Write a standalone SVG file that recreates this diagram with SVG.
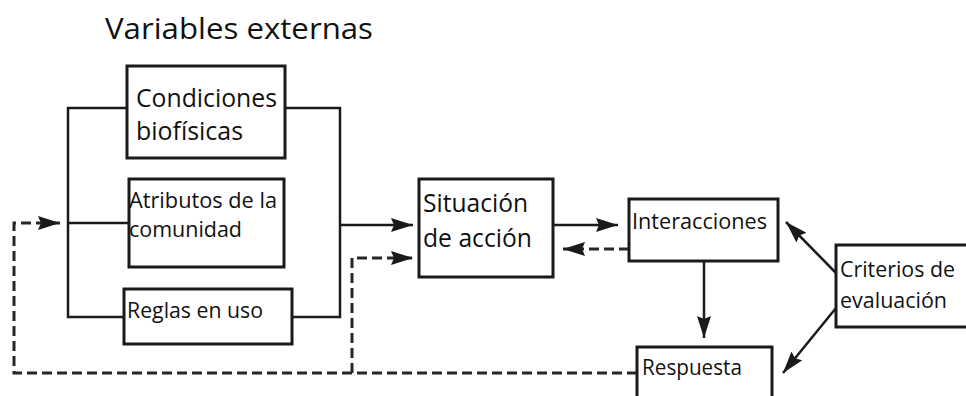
<svg xmlns="http://www.w3.org/2000/svg" width="966" height="396" viewBox="0 0 966 396">
<style>
.box{fill:#fff;stroke:#1a1a1a;stroke-width:3}
.ln{fill:none;stroke:#1a1a1a;stroke-width:2.5}
.ds{fill:none;stroke:#262626;stroke-width:3;stroke-dasharray:10 5}
text{font-family:"Open Sans","Noto Sans",sans-serif;fill:#111}
.big{font-size:25px}
.sm{font-size:21px}
</style>
<defs>
<marker id="ah2" markerWidth="22" markerHeight="14" refX="22" refY="7" orient="auto" markerUnits="userSpaceOnUse">
<path d="M0,0 L22,7 L0,14 L3,7 Z" fill="#1a1a1a"/>
</marker>
</defs>
<rect width="966" height="396" fill="#fff"/>
<text x="105" y="39" style="font-size:30px" textLength="268" lengthAdjust="spacingAndGlyphs">Variables externas</text>
<g id="connectors">
<path class="ln" d="M127,108 H68 V317 H124"/>
<path class="ln" d="M68,223 H129"/>
<path class="ln" d="M285,108 H340 V317 H292"/>
<path class="ln" d="M340,225 H413" marker-end="url(#ah2)"/>
<path class="ln" d="M553,225 H618" marker-end="url(#ah2)"/>
<path class="ds" d="M629,249 H563" marker-end="url(#ah2)"/>
<path class="ds" d="M637,373 H14 V223 H60" marker-end="url(#ah2)"/>
<path class="ds" d="M352,373 V258 H413" marker-end="url(#ah2)"/>
<path class="ln" d="M704,261 V338" marker-end="url(#ah2)"/>
<path class="ln" d="M836,273 L786,222" marker-end="url(#ah2)"/>
<path class="ln" d="M836,308 L783,373" marker-end="url(#ah2)"/>
</g>
<g id="condiciones">
<rect class="box" x="127" y="66" width="158" height="92"/>
<text class="big" x="136" y="107" textLength="141" lengthAdjust="spacingAndGlyphs">Condiciones</text>
<text class="big" x="136" y="140" textLength="107" lengthAdjust="spacingAndGlyphs">biofísicas</text>
</g>
<g id="atributos">
<rect class="box" x="129" y="179" width="155" height="88"/>
<text class="sm" x="129" y="208" textLength="148" lengthAdjust="spacingAndGlyphs">Atributos de la</text>
<text class="sm" x="129" y="237" textLength="113" lengthAdjust="spacingAndGlyphs">comunidad</text>
</g>
<g id="reglas">
<rect class="box" x="124" y="289" width="168" height="55"/>
<text class="sm" x="127" y="318" textLength="136" lengthAdjust="spacingAndGlyphs">Reglas en uso</text>
</g>
<g id="situacion">
<rect class="box" x="419" y="179" width="134" height="98"/>
<text class="big" x="423" y="212" textLength="105" lengthAdjust="spacingAndGlyphs">Situación</text>
<text class="big" x="423" y="247" textLength="109" lengthAdjust="spacingAndGlyphs">de acción</text>
</g>
<g id="interacciones">
<rect class="box" x="629" y="199" width="149" height="62"/>
<text class="sm" x="632" y="229" textLength="135" lengthAdjust="spacingAndGlyphs">Interacciones</text>
</g>
<g id="respuesta">
<rect class="box" x="637" y="347" width="135" height="60"/>
<text class="sm" x="642" y="375" textLength="100" lengthAdjust="spacingAndGlyphs">Respuesta</text>
</g>
<g id="criterios">
<rect class="box" x="836" y="245" width="140" height="82"/>
<text class="sm" x="840" y="277" textLength="115" lengthAdjust="spacingAndGlyphs">Criterios de</text>
<text class="sm" x="840" y="308" textLength="107" lengthAdjust="spacingAndGlyphs">evaluación</text>
</g>
</svg>
